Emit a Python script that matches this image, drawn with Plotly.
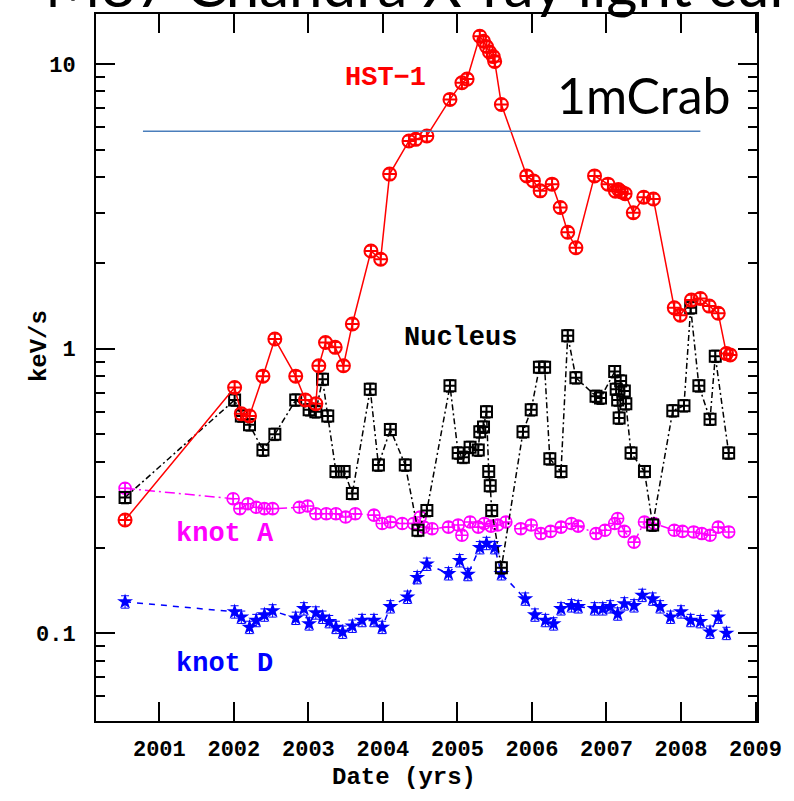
import math
import plotly.graph_objects as go

# HST-1 knot light curve (keV/s)
hst1_t = [2000.54, 2002.01, 2002.10, 2002.21, 2002.39, 2002.55, 2002.83, 2002.96, 2003.10,
          2003.14, 2003.23, 2003.36, 2003.47, 2003.59, 2003.84, 2003.97, 2004.09, 2004.35,
          2004.44, 2004.59, 2004.90, 2005.06, 2005.13, 2005.30, 2005.35, 2005.39, 2005.43,
          2005.48, 2005.50, 2005.59, 2005.93, 2006.02, 2006.11, 2006.27, 2006.38, 2006.48,
          2006.59, 2006.84, 2007.02, 2007.12, 2007.16, 2007.20, 2007.25, 2007.36, 2007.50,
          2007.63, 2007.91, 2007.99, 2008.14, 2008.26, 2008.38, 2008.50, 2008.61, 2008.66]
hst1_f = [0.25, 0.73, 0.59, 0.58, 0.80, 1.08, 0.80, 0.66, 0.64,
          0.87, 1.05, 1.01, 0.87, 1.22, 2.20, 2.06, 4.10, 5.36,
          5.43, 5.58, 7.50, 8.58, 8.84, 12.5, 12.0, 11.5, 11.0,
          10.6, 10.2, 7.2, 4.04, 3.88, 3.58, 3.78, 3.13, 2.56,
          2.26, 4.04, 3.78, 3.57, 3.62, 3.55, 3.50, 3.00, 3.40,
          3.35, 1.39, 1.31, 1.48, 1.50, 1.41, 1.33, 0.96, 0.95]

# Nucleus light curve (keV/s)
nuc_t = [2000.54, 2002.01, 2002.10, 2002.21, 2002.39, 2002.55, 2002.83, 2003.01, 2003.10,
         2003.19, 2003.26, 2003.37, 2003.48, 2003.59, 2003.83, 2003.94, 2004.10, 2004.30,
         2004.47, 2004.59, 2004.90, 2005.01, 2005.08, 2005.17, 2005.28, 2005.30, 2005.35,
         2005.39, 2005.42, 2005.44, 2005.46, 2005.59, 2005.88, 2005.99, 2006.10, 2006.17,
         2006.24, 2006.39, 2006.48, 2006.59, 2006.86, 2006.92, 2007.11, 2007.13, 2007.15,
         2007.17, 2007.19, 2007.24, 2007.26, 2007.33, 2007.51, 2007.62, 2007.89, 2008.04,
         2008.13, 2008.24, 2008.39, 2008.46, 2008.64]
nuc_f = [0.30, 0.66, 0.58, 0.54, 0.44, 0.50, 0.66, 0.61, 0.60,
         0.78, 0.58, 0.37, 0.37, 0.31, 0.72, 0.39, 0.52, 0.39,
         0.23, 0.27, 0.74, 0.43, 0.415, 0.45, 0.44, 0.51, 0.53,
         0.60, 0.37, 0.33, 0.27, 0.17, 0.51, 0.61, 0.86, 0.86,
         0.41, 0.37, 1.11, 0.79, 0.68, 0.67, 0.83, 0.72, 0.66,
         0.57, 0.77, 0.71, 0.64, 0.43, 0.37, 0.24, 0.605, 0.63,
         1.39, 0.74, 0.565, 0.94, 0.43]

# knot A light curve (keV/s)
knA_t = [2000.54, 2001.99, 2002.08, 2002.19, 2002.30, 2002.41, 2002.52, 2002.88, 2002.99,
         2003.10, 2003.24, 2003.37, 2003.50, 2003.63, 2003.88, 2003.99, 2004.10, 2004.26,
         2004.41, 2004.50, 2004.55, 2004.66, 2004.88, 2005.01, 2005.06, 2005.17, 2005.28,
         2005.36, 2005.45, 2005.54, 2005.65, 2005.85, 2005.99, 2006.12, 2006.25, 2006.39,
         2006.53, 2006.62, 2006.86, 2006.98, 2007.11, 2007.15, 2007.24, 2007.37, 2007.51,
         2007.64, 2007.91, 2008.02, 2008.17, 2008.28, 2008.39, 2008.50, 2008.64]
knA_f = [0.323, 0.297, 0.274, 0.285, 0.277, 0.274, 0.274, 0.277, 0.280,
         0.263, 0.263, 0.263, 0.256, 0.263, 0.260, 0.243, 0.246, 0.243,
         0.243, 0.256, 0.236, 0.233, 0.236, 0.240, 0.221, 0.246, 0.236,
         0.243, 0.238, 0.240, 0.246, 0.233, 0.240, 0.224, 0.228, 0.236,
         0.243, 0.238, 0.224, 0.230, 0.243, 0.253, 0.228, 0.209, 0.246,
         0.243, 0.230, 0.228, 0.227, 0.224, 0.221, 0.236, 0.227]

# knot D light curve (keV/s)
knD_t = [2000.54, 2002.01, 2002.10, 2002.21, 2002.30, 2002.41, 2002.52, 2002.83, 2002.94,
         2003.01, 2003.10, 2003.19, 2003.28, 2003.37, 2003.46, 2003.59, 2003.72, 2003.88,
         2003.99, 2004.10, 2004.33, 2004.46, 2004.59, 2004.88, 2005.03, 2005.14, 2005.30,
         2005.39, 2005.50, 2005.59, 2005.91, 2006.04, 2006.18, 2006.29, 2006.39, 2006.53,
         2006.62, 2006.84, 2006.95, 2007.05, 2007.15, 2007.24, 2007.37, 2007.48, 2007.62,
         2007.72, 2007.86, 2008.00, 2008.13, 2008.26, 2008.39, 2008.50, 2008.61]
knD_f = [0.129, 0.119, 0.114, 0.105, 0.111, 0.116, 0.120, 0.113, 0.122,
         0.108, 0.118, 0.114, 0.110, 0.105, 0.101, 0.106, 0.111, 0.111,
         0.105, 0.124, 0.134, 0.157, 0.175, 0.162, 0.180, 0.161, 0.200,
         0.207, 0.200, 0.162, 0.132, 0.116, 0.111, 0.108, 0.122, 0.125,
         0.124, 0.122, 0.122, 0.124, 0.117, 0.127, 0.125, 0.136, 0.132,
         0.124, 0.114, 0.119, 0.111, 0.110, 0.101, 0.114, 0.100]

# 1 mCrab reference level and its time span
crab_level = 5.8
crab_span = [2000.78, 2008.26]

year_ticks = [2001, 2002, 2003, 2004, 2005, 2006, 2007, 2008, 2009]
flux_ticks = [0.1, 1, 10]
flux_tick_text = ["0.1", "1", "10"]
flux_minor = [0.06, 0.07, 0.08, 0.09, 0.2, 0.3, 0.4, 0.5, 0.6, 0.7, 0.8, 0.9,
              2, 3, 4, 5, 6, 7, 8, 9]

HERSHEY = "Liberation Mono"

fig = go.Figure()

fig.add_trace(go.Scatter(
    x=knD_t, y=knD_f, mode="lines+markers", name="knot D",
    line=dict(color="#0000ff", width=1.5, dash="6px,6px"),
    marker=dict(symbol="star", size=12, color="#0000ff"),
    error_y=dict(type="percent", value=5, color="#0000ff", thickness=1, width=4),
))
fig.add_trace(go.Scatter(
    x=knA_t, y=knA_f, mode="lines+markers", name="knot A",
    line=dict(color="#ff00ff", width=1.5, dash="10px,4px,2px,4px"),
    marker=dict(symbol="circle-cross-open", size=12, color="#ff00ff", line=dict(width=1.6)),
    error_y=dict(type="percent", value=4, color="#ff00ff", thickness=1, width=4),
))
fig.add_trace(go.Scatter(
    x=nuc_t, y=nuc_f, mode="lines+markers", name="Nucleus",
    line=dict(color="#000000", width=1.5, dash="6px,3px,2px,3px"),
    marker=dict(symbol="square-cross-open", size=11, color="#000000", line=dict(width=2)),
    error_y=dict(type="percent", value=5, color="#000000", thickness=1, width=4),
))
fig.add_trace(go.Scatter(
    x=hst1_t, y=hst1_f, mode="lines+markers", name="HST-1",
    line=dict(color="#ff0000", width=1.5),
    marker=dict(symbol="circle-cross-open", size=13, color="#ff0000", line=dict(width=2)),
    error_y=dict(type="percent", value=4, color="#ff0000", thickness=1, width=4),
))

fig.add_shape(type="line", xref="x", yref="y",
              x0=crab_span[0], x1=crab_span[1], y0=crab_level, y1=crab_level,
              line=dict(color="#4a7ebb", width=1.5))

# annotations on a log axis take log10 positions
label_font = dict(family=HERSHEY, size=27, weight="bold")
series_labels = [
    ("HST\u22121", 2004.03, 8.9, "#ff0000"),
    ("Nucleus", 2005.04, 1.09, "#000000"),
    ("knot A", 2001.88, 0.2225, "#ff00ff"),
    ("knot D", 2001.88, 0.078, "#0000ff"),
]
for text, tx, fy, col in series_labels:
    fig.add_annotation(x=tx, y=math.log10(fy), text=text, showarrow=False,
                       xanchor="center", yanchor="middle",
                       font=dict(label_font, color=col))

fig.add_annotation(x=2007.5, y=math.log10(7.75), text="1mCrab", showarrow=False,
                   xanchor="center", yanchor="middle",
                   font=dict(family="Lato", size=50, color="#000000"))

# slide heading above the plot
fig.add_annotation(xref="paper", yref="paper", x=-0.0805, y=0.988,
                   xanchor="left", yanchor="bottom", showarrow=False,
                   text="M87 Chandra X-ray light curve",
                   font=dict(family="Lato", size=60, color="#000000"))

# axis titles
fig.add_annotation(xref="paper", yref="paper", x=0.466, y=-0.080,
                   xanchor="center", yanchor="middle",
                   text="Date (yrs)", showarrow=False,
                   font=dict(family=HERSHEY, size=24, weight="bold", color="#000000"))
fig.add_annotation(xref="paper", yref="paper", x=-0.0865, y=0.530,
                   xanchor="center", yanchor="middle",
                   text="keV/s", showarrow=False, textangle=-90,
                   font=dict(family=HERSHEY, size=24, weight="bold", color="#000000"))

tick_font = dict(family=HERSHEY, size=22, weight="bold", color="#000000")

fig.update_xaxes(
    range=[2000.15, 2009.02], tickvals=year_ticks, ticktext=[str(y) for y in year_ticks],
    ticks="inside", ticklen=19, tickwidth=1.5, tickcolor="#000000",
    showline=True, linewidth=2, linecolor="#000000", mirror="ticks",
    showgrid=False, zeroline=False, tickfont=tick_font, ticklabelstandoff=7,
)
fig.update_yaxes(
    type="log", range=[-1.308, 1.175], tickvals=flux_ticks, ticktext=flux_tick_text,
    ticks="inside", ticklen=19, tickwidth=1.5, tickcolor="#000000",
    showline=True, linewidth=2, linecolor="#000000", mirror="ticks",
    showgrid=False, zeroline=False, tickfont=tick_font, ticklabelstandoff=14,
    minor=dict(tickvals=flux_minor, ticks="inside", ticklen=9, tickwidth=1.5,
               tickcolor="#000000", showgrid=False),
)

fig.update_layout(
    width=794, height=801,
    margin=dict(l=95.5, r=34, t=12, b=80),
    paper_bgcolor="#ffffff", plot_bgcolor="#ffffff",
    showlegend=False,
)

fig.write_html("out.html")
